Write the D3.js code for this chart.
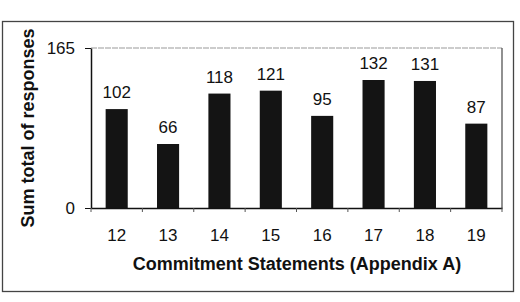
<!DOCTYPE html>
<html>
<head>
<meta charset="utf-8">
<script src="https://cdn.jsdelivr.net/npm/d3@7"></script>
<style>
  body { margin: 0; background: #fff; }
  text { font-family: Arial, "Liberation Sans", sans-serif; fill: #111; }
</style>
</head>
<body>
<svg id="chart" width="520" height="302"></svg>
<script>
// statements along the x axis and their summed responses
const statements = ["12", "13", "14", "15", "16", "17", "18", "19"]
const totals = [102, 66, 118, 121, 95, 132, 131, 87]
const yTicks = [0, 165]

const svg = d3.select("#chart")

// plot area
const plotLeft = 91, plotRight = 502, plotTop = 48, plotBottom = 208

const x = d3.scaleBand()
  .domain(statements)
  .range([plotLeft, plotRight])
  .paddingInner(0.57)
  .paddingOuter(0.285)

const y = d3.scaleLinear()
  .domain([0, 165])
  .range([plotBottom, plotTop])

// outer frame round the whole chart
svg.append("rect")
  .attr("x", 2.5).attr("y", 21.5)
  .attr("width", 511).attr("height", 270)
  .attr("fill", "none")
  .attr("stroke", "#444")
  .attr("stroke-width", 1.3)

// plot area frame: light top, darker right
svg.append("line")
  .attr("x1", plotLeft).attr("x2", plotRight)
  .attr("y1", plotTop).attr("y2", plotTop)
  .attr("stroke", "#999")
  .attr("stroke-dasharray", "6,1")
svg.append("line")
  .attr("x1", plotRight).attr("x2", plotRight)
  .attr("y1", plotTop).attr("y2", plotBottom)
  .attr("stroke", "#555")
  .attr("stroke-width", 1.3)

// bars
svg.selectAll(".bar")
  .data(totals)
  .join("rect")
  .attr("class", "bar")
  .attr("x", (d, i) => x(statements[i]))
  .attr("y", d => y(d))
  .attr("width", x.bandwidth())
  .attr("height", d => y(0) - y(d))
  .attr("fill", "#141414")

// value labels above bars
svg.selectAll(".value")
  .data(totals)
  .join("text")
  .attr("class", "value")
  .attr("x", (d, i) => x(statements[i]) + x.bandwidth() / 2)
  .attr("y", d => y(d) - 11)
  .attr("text-anchor", "middle")
  .style("font-size", "17px")
  .text(d => d)

// y axis
const yAxis = svg.append("g")
  .attr("transform", `translate(${plotLeft},0)`)
  .call(d3.axisLeft(y).tickValues(yTicks).tickSize(6).tickPadding(10).tickSizeOuter(0))
yAxis.select(".domain").attr("stroke", "#111").attr("stroke-width", 1.5)
yAxis.selectAll("line").attr("stroke", "#111")
yAxis.selectAll("text")
  .style("font-size", "17px")
  .style("font-family", "Arial, 'Liberation Sans', sans-serif")
  .attr("fill", "#111")

// x axis with ticks between categories
const xAxis = svg.append("g")
  .attr("transform", `translate(0,${plotBottom})`)
  .call(d3.axisBottom(x).tickSize(0).tickPadding(21))
xAxis.select(".domain").attr("stroke", "#111").attr("stroke-width", 1.5)
xAxis.selectAll("text")
  .style("font-size", "17px")
  .style("font-family", "Arial, 'Liberation Sans', sans-serif")
  .attr("fill", "#111")

// band boundaries, both ends included
const bounds = statements.map(d => x(d) - x.step() * x.paddingInner() / 2).concat([plotRight])
bounds[0] = plotLeft
xAxis.selectAll(".sep")
  .data(bounds)
  .join("line")
  .attr("class", "sep")
  .attr("x1", d => d)
  .attr("x2", d => d)
  .attr("y1", 0).attr("y2", 4)
  .attr("stroke", "#555")

// axis titles
svg.append("text")
  .attr("x", 297)
  .attr("y", 270)
  .attr("text-anchor", "middle")
  .style("font-size", "18px")
  .style("font-weight", "bold")
  .text("Commitment Statements (Appendix A)")

svg.append("text")
  .attr("transform", "translate(34,128) rotate(-90)")
  .attr("text-anchor", "middle")
  .style("font-size", "18px")
  .style("font-weight", "bold")
  .text("Sum total of responses")
</script>
</body>
</html>
